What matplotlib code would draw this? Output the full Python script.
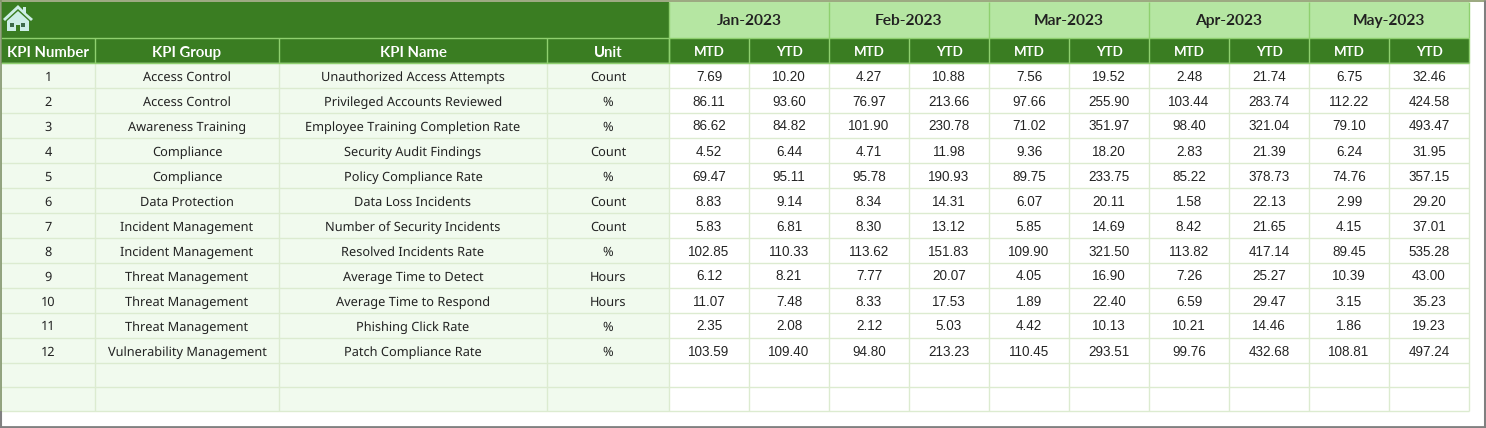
import matplotlib
matplotlib.use('Agg')
from matplotlib import pyplot as plt
from matplotlib.patches import Rectangle, Polygon

plt.rcParams['text.hinting'] = 'native'

# table contents
kpi_numbers = [str(i) for i in range(1, 13)]
kpi_groups = ['Access Control', 'Access Control', 'Awareness Training', 'Compliance', 'Compliance',
              'Data Protection', 'Incident Management', 'Incident Management', 'Threat Management',
              'Threat Management', 'Threat Management', 'Vulnerability Management']
kpi_names = ['Unauthorized Access Attempts', 'Privileged Accounts Reviewed',
             'Employee Training Completion Rate', 'Security Audit Findings', 'Policy Compliance Rate',
             'Data Loss Incidents', 'Number of Security Incidents', 'Resolved Incidents Rate',
             'Average Time to Detect', 'Average Time to Respond', 'Phishing Click Rate',
             'Patch Compliance Rate']
units = ['Count', '%', '%', 'Count', '%', 'Count', 'Count', '%', 'Hours', 'Hours', '%', '%']
months = ['Jan-2023', 'Feb-2023', 'Mar-2023', 'Apr-2023', 'May-2023']

jan_mtd = [7.69, 86.11, 86.62, 4.52, 69.47, 8.83, 5.83, 102.85, 6.12, 11.07, 2.35, 103.59]
jan_ytd = [10.20, 93.60, 84.82, 6.44, 95.11, 9.14, 6.81, 110.33, 8.21, 7.48, 2.08, 109.40]
feb_mtd = [4.27, 76.97, 101.90, 4.71, 95.78, 8.34, 8.30, 113.62, 7.77, 8.33, 2.12, 94.80]
feb_ytd = [10.88, 213.66, 230.78, 11.98, 190.93, 14.31, 13.12, 151.83, 20.07, 17.53, 5.03, 213.23]
mar_mtd = [7.56, 97.66, 71.02, 9.36, 89.75, 6.07, 5.85, 109.90, 4.05, 1.89, 4.42, 110.45]
mar_ytd = [19.52, 255.90, 351.97, 18.20, 233.75, 20.11, 14.69, 321.50, 16.90, 22.40, 10.13, 293.51]
apr_mtd = [2.48, 103.44, 98.40, 2.83, 85.22, 1.58, 8.42, 113.82, 7.26, 6.59, 10.21, 99.76]
apr_ytd = [21.74, 283.74, 321.04, 21.39, 378.73, 22.13, 21.65, 417.14, 25.27, 29.47, 14.46, 432.68]
may_mtd = [6.75, 112.22, 79.10, 6.24, 74.76, 2.99, 4.15, 89.45, 10.39, 3.15, 1.86, 108.81]
may_ytd = [32.46, 424.58, 493.47, 31.95, 357.15, 29.20, 37.01, 535.28, 43.00, 35.23, 19.23, 497.24]
value_cols = [jan_mtd, jan_ytd, feb_mtd, feb_ytd, mar_mtd, mar_ytd, apr_mtd, apr_ytd, may_mtd, may_ytd]

# layout in pixels
W, H = 1486, 428
left_edges = [1, 95, 279, 547, 669]
val_w = 80
val_edges = [669 + val_w * i for i in range(11)]
top, head1, head2 = 1.5, 38, 63
# the two empty rows at the end are a little shorter
row_heights = [25] * 12 + [24, 24]
row_edges = [head2]
for h in row_heights:
    row_edges.append(row_edges[-1] + h)
bottom = row_edges[-1]

DARK = '#3a7d22'
LIGHT_HEAD = '#b5e6a2'
PALE = '#f1faee'
GRID = '#dcebd0'
HEAD_LINE = '#8fd06f'
TEXT = '#222222'
FONT = 'Noto Sans'
BOLD_FONT = 'Lato'

fig = plt.figure(figsize=(W / 100, H / 100), dpi=100)
ax = fig.add_axes([0, 0, 1, 1])
ax.set_xlim(0, W)
ax.set_ylim(H, 0)
ax.axis('off')

# fills
ax.add_patch(Rectangle((1, top), val_edges[0] - 1, head1 - top, color=DARK, lw=0))
ax.add_patch(Rectangle((val_edges[0], top), val_edges[-1] - val_edges[0], head1 - top, color=LIGHT_HEAD, lw=0))
ax.add_patch(Rectangle((1, head1), val_edges[-1] - 1, head2 - head1, color=DARK, lw=0))
ax.add_patch(Rectangle((1, head2), val_edges[0] - 1, bottom - head2, color=PALE, lw=0))

# body grid
for y in row_edges:
    ax.plot([1, val_edges[-1]], [y, y], color=GRID, lw=1, solid_capstyle='butt')
for x in left_edges[1:] + val_edges[1:]:
    ax.plot([x, x], [head2, bottom], color=GRID, lw=1, solid_capstyle='butt')

# header lines
ax.plot([1, val_edges[-1]], [head1, head1], color=HEAD_LINE, lw=1, solid_capstyle='butt')
ax.plot([1, val_edges[-1]], [head2, head2], color=HEAD_LINE, lw=1, solid_capstyle='butt')
for x in left_edges[1:] + val_edges:
    ax.plot([x, x], [head1, head2], color=HEAD_LINE, lw=1, solid_capstyle='butt')
for x in val_edges[::2]:
    ax.plot([x, x], [top, head1], color=HEAD_LINE, lw=1, solid_capstyle='butt')

# header text, placed on the baseline so descenders don't shift it
month_base = 24.5
sub_base = 56.5
labels = ['KPI Number', 'KPI Group', 'KPI Name', 'Unit']
edges = left_edges
for i, lab in enumerate(labels):
    ax.text((edges[i] + edges[i + 1]) / 2, sub_base, lab, color='#ffffff', ha='center', va='baseline',
            fontsize=10.7, fontweight='bold', family=BOLD_FONT)
for i, m in enumerate(months):
    ax.text((val_edges[2 * i] + val_edges[2 * i + 2]) / 2, month_base, m, color=TEXT, ha='center', va='baseline',
            fontsize=11.2, fontweight='bold', family=BOLD_FONT)
    for j, lab in enumerate(['MTD', 'YTD']):
        k = 2 * i + j
        ax.text((val_edges[k] + val_edges[k + 1]) / 2 + 0.5, sub_base - 0.5, lab, color='#ffffff', ha='center',
                va='baseline', fontsize=9.6, fontweight='bold', family=BOLD_FONT)

# body text
for r in range(len(kpi_numbers)):
    y = row_edges[r] + 17.5
    row = [kpi_numbers[r], kpi_groups[r], kpi_names[r], units[r]]
    for i, s in enumerate(row):
        ax.text((edges[i] + edges[i + 1]) / 2, y, s, color=TEXT, ha='center', va='baseline',
                fontsize=9.2, family=FONT)
    for k, col in enumerate(value_cols):
        ax.text((val_edges[k] + val_edges[k + 1]) / 2, y, f'{col[r]:.2f}', color=TEXT, ha='center', va='baseline',
                fontsize=9.7, family='Liberation Sans')

# house icon
ICON = '#cdeee6'
ax.add_patch(Polygon([(3, 19), (18, 5), (23, 10), (23, 7), (26, 7), (26, 13), (33, 19), (31, 21),
                      (18, 9), (5, 21)], color=ICON, lw=0))
ax.add_patch(Polygon([(7, 21), (18, 11), (29, 21), (29, 31), (7, 31)], color=ICON, lw=0))
ax.add_patch(Rectangle((9.5, 22.5), 4, 4, color='#3d6b4a', lw=0))
ax.add_patch(Rectangle((21, 22.5), 4, 4, color='#3d6b4a', lw=0))
ax.add_patch(Rectangle((15.5, 25), 4, 6, color=DARK, lw=0))

# screenshot frame
ax.plot([0, W], [0.5, 0.5], color='#8a9a6a', lw=1.2, solid_capstyle='butt')
ax.plot([0.5, 0.5], [0, bottom], color='#7f9268', lw=1.2, solid_capstyle='butt')
ax.plot([0.9, 0.9], [bottom, H], color='#808080', lw=1.5, solid_capstyle='butt')
ax.plot([W - 1.5, W - 1.5], [0, H], color='#808080', lw=2.2, solid_capstyle='butt')
ax.plot([0, W], [H - 1, H - 1], color='#808080', lw=2, solid_capstyle='butt')

fig.savefig('out.png', dpi=100, facecolor='white')
